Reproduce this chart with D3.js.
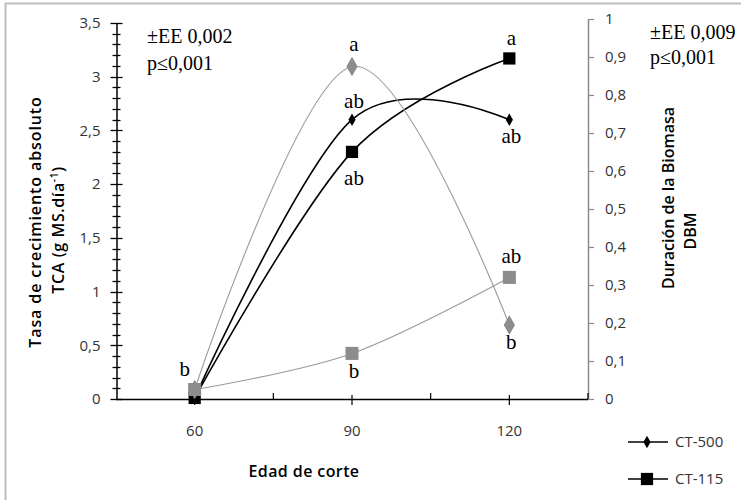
<!DOCTYPE html>
<html>
<head>
<meta charset="utf-8">
<script src="https://cdn.jsdelivr.net/npm/d3@7"></script>
<style>
  body { margin: 0; background: #fff; }
  svg text { font-family: "Open Sans", sans-serif; }
</style>
</head>
<body>
<script>
// categories and values
const edades = ["60", "90", "120"];
// TCA, left axis
const tca500 = [0.01, 2.6, 2.6];
const tca115 = [0.01, 2.3, 3.17];
// DBM, right axis
const dbm500 = [0.025, 0.875, 0.195];
const dbm115 = [0.025, 0.12, 0.32];
// significance letters and side (1 above, -1 below)
const let500 = ["", "ab", "ab"], side500 = [1, 1, -1];
const let115 = ["", "ab", "a"], side115 = [1, -1, 1];
const letD500 = ["", "a", "b"], sideD500 = [1, 1, -1];
const letD115 = ["b", "b", "ab"], sideD115 = [1, -1, 1];
const leftTicks = [0, 0.5, 1, 1.5, 2, 2.5, 3, 3.5];
const leftMinor = [0.1, 0.2, 0.3, 0.4, 0.6, 0.7, 0.8, 0.9, 1.1, 1.2, 1.3, 1.4, 1.6, 1.7, 1.8, 1.9,
  2.1, 2.2, 2.3, 2.4, 2.6, 2.7, 2.8, 2.9, 3.1, 3.2, 3.3, 3.4];
const rightTicks = [0, 0.1, 0.2, 0.3, 0.4, 0.5, 0.6, 0.7, 0.8, 0.9, 1];
const fmt = d => String(d).replace(".", ",");

var show_chart = () => {
  const W = 741, H = 500;
  const svg = d3.select("body").append("svg").attr("width", W).attr("height", H);

  // outer frame (cut off at right and bottom)
  svg.append("rect").attr("x", 5.5).attr("y", 3.5).attr("width", W).attr("height", H)
    .attr("fill", "none").attr("stroke", "#bdbdbd").attr("stroke-width", 2);

  const x = d3.scaleBand().domain(edades).range([116, 588]).padding(0);
  const yL = d3.scaleLinear().domain([0, 3.5]).range([399, 23]);
  const yR = d3.scaleLinear().domain([0, 1]).range([399, 19]);
  const cx = d => x(d) + x.bandwidth() / 2;
  const crisp = v => Math.round(v) + 0.5;

  // left axis: labels from axisLeft, cross ticks drawn on top
  const gL = svg.append("g").attr("transform", "translate(116.5,0)")
    .call(d3.axisLeft(yL).tickValues(leftTicks).tickSize(0).tickSizeOuter(0).tickFormat(fmt));
  gL.select("path.domain").attr("stroke", "#000").attr("stroke-width", 1.5);
  gL.selectAll(".tick text").attr("x", -16).attr("font-size", 15).attr("fill", "#333")
    .attr("font-family", "'Open Sans', sans-serif");
  gL.selectAll("line.mn").data(leftMinor).join("line").attr("class", "mn")
    .attr("x1", -4).attr("x2", 4).attr("y1", d => crisp(yL(d))).attr("y2", d => crisp(yL(d)))
    .attr("stroke", "#000").attr("stroke-width", 1.3);
  gL.selectAll("line.mj").data(leftTicks).join("line").attr("class", "mj")
    .attr("x1", -6).attr("x2", 6).attr("y1", d => crisp(yL(d))).attr("y2", d => crisp(yL(d)))
    .attr("stroke", "#000").attr("stroke-width", 1.3);

  // right axis
  const gR = svg.append("g").attr("transform", "translate(588,0)")
    .call(d3.axisRight(yR).tickValues(rightTicks).tickSize(6).tickSizeOuter(0).tickFormat(fmt));
  gR.select("path.domain").attr("stroke", "#8a8a8a").attr("stroke-width", 1.5);
  gR.selectAll(".tick line").attr("stroke", "#8a8a8a").attr("stroke-width", 1.2);
  gR.selectAll(".tick text").attr("x", 17).attr("font-size", 15).attr("fill", "#333")
    .attr("font-family", "'Open Sans', sans-serif");

  // x axis
  const gX = svg.append("g");
  gX.append("line").attr("x1", 116).attr("x2", 588).attr("y1", 399.5).attr("y2", 399.5)
    .attr("stroke", "#000").attr("stroke-width", 1.5);
  gX.selectAll("line.c").data(edades).join("line").attr("class", "c")
    .attr("x1", cx).attr("x2", cx).attr("y1", 395).attr("y2", 405)
    .attr("stroke", "#000").attr("stroke-width", 1.2);
  gX.selectAll("line.b").data(edades).join("line").attr("class", "b")
    .attr("x1", d => x(d) + x.bandwidth()).attr("x2", d => x(d) + x.bandwidth())
    .attr("y1", 393).attr("y2", 399)
    .attr("stroke", "#000").attr("stroke-width", 1.2);
  gX.selectAll("text").data(edades).join("text")
    .attr("x", cx).attr("y", 431).attr("dy", "0.35em")
    .attr("text-anchor", "middle").attr("font-size", 15).attr("fill", "#333")
    .text(d => d);

  // axis titles
  svg.append("text").attr("x", 304).attr("y", 471).attr("dy", "0.35em")
    .attr("text-anchor", "middle").attr("font-size", 16).attr("font-weight", 600)
    .attr("letter-spacing", 0.4)
    .text("Edad de corte");
  const tl = svg.append("text").attr("transform", "translate(35,222) rotate(-90)")
    .attr("text-anchor", "middle").attr("font-size", 16).attr("font-weight", 600)
    .attr("letter-spacing", 0.9);
  tl.append("tspan").attr("x", 0).attr("dy", "0.35em").text("Tasa de crecimiento absoluto");
  const tl2 = svg.append("text").attr("transform", "translate(58,230) rotate(-90)")
    .attr("text-anchor", "middle").attr("font-size", 16).attr("font-weight", 600)
    .attr("letter-spacing", 0.6);
  tl2.append("tspan").attr("dy", "0.35em").text("TCA (g MS.día");
  tl2.append("tspan").attr("font-size", 10).attr("dy", "-0.6em").text("-1");
  tl2.append("tspan").attr("dy", "0.4em").text(")");
  svg.append("text").attr("transform", "translate(668,198) rotate(-90)")
    .attr("text-anchor", "middle").attr("dy", "0.35em").attr("font-size", 16).attr("font-weight", 600)
    .text("Duración de la Biomasa");
  svg.append("text").attr("transform", "translate(690,231) rotate(-90)")
    .attr("text-anchor", "middle").attr("dy", "0.35em").attr("font-size", 16).attr("font-weight", 600)
    .text("DBM");

  // stat notes
  const serif = "'Liberation Serif', serif";
  [["±EE 0,002", 147, 43], ["p≤0,001", 147, 70], ["±EE 0,009", 650, 39], ["p≤0,001", 650, 64]]
    .forEach(t => svg.append("text").attr("x", t[1]).attr("y", t[2])
      .style("font-family", serif).attr("font-size", 20).text(t[0]));

  const curve = d3.curveCardinal.tension(0);
  const series = [
    { v: tca500, y: yL, col: "#000", lw: 1.6, sym: d3.symbolDiamond, size: 45, mcol: "#000", lab: let500, side: side500, up: 12, dn: 23 },
    { v: tca115, y: yL, col: "#000", lw: 1.6, sym: d3.symbolSquare, size: 150, mcol: "#000", lab: let115, side: side115, up: 13, dn: 33 },
    { v: dbm500, y: yR, col: "#9a9a9a", lw: 1.1, sym: d3.symbolDiamond, size: 110, mcol: "#8c8c8c", lab: letD500, side: sideD500, up: 16, dn: 24 },
    { v: dbm115, y: yR, col: "#9a9a9a", lw: 1.1, sym: d3.symbolSquare, size: 170, mcol: "#8c8c8c", lab: letD115, side: sideD115, up: 14, dn: 25 }
  ];
  const gS = svg.append("g");
  series.forEach(s => {
    const line = d3.line().x((d, i) => cx(edades[i])).y(d => s.y(d)).curve(curve);
    gS.append("path").attr("d", line(s.v)).attr("fill", "none")
      .attr("stroke", s.col).attr("stroke-width", s.lw);
  });
  series.forEach(s => {
    gS.selectAll(null).data(s.v).join("path")
      .attr("transform", (d, i) => `translate(${cx(edades[i])},${s.y(d)})`)
      .attr("d", d3.symbol().type(s.sym).size(s.size)).attr("fill", s.mcol);
    gS.selectAll(null).data(s.v).join("text")
      .attr("x", (d, i) => cx(edades[i]) + (i === 0 ? -10 : 2))
      .attr("y", (d, i) => s.y(d) + (s.side[i] > 0 ? -s.up : s.dn))
      .attr("text-anchor", "middle").style("font-family", serif).attr("font-size", 21)
      .text((d, i) => s.lab[i]);
  });

  // legend
  const leg = [["CT-500", d3.symbolDiamond, 45], ["CT-115", d3.symbolSquare, 150]];
  leg.forEach((l, i) => {
    const y = 442 + i * 37;
    svg.append("line").attr("x1", 628).attr("x2", 668).attr("y1", y).attr("y2", y)
      .attr("stroke", "#000").attr("stroke-width", 1.6);
    svg.append("path").attr("transform", `translate(647,${y})`)
      .attr("d", d3.symbol().type(l[1]).size(l[2])).attr("fill", "#000");
    svg.append("text").attr("x", 675).attr("y", y).attr("dy", "0.35em")
      .attr("font-size", 15).attr("fill", "#333").text(l[0]);
  });
};
show_chart();
</script>
</body>
</html>
